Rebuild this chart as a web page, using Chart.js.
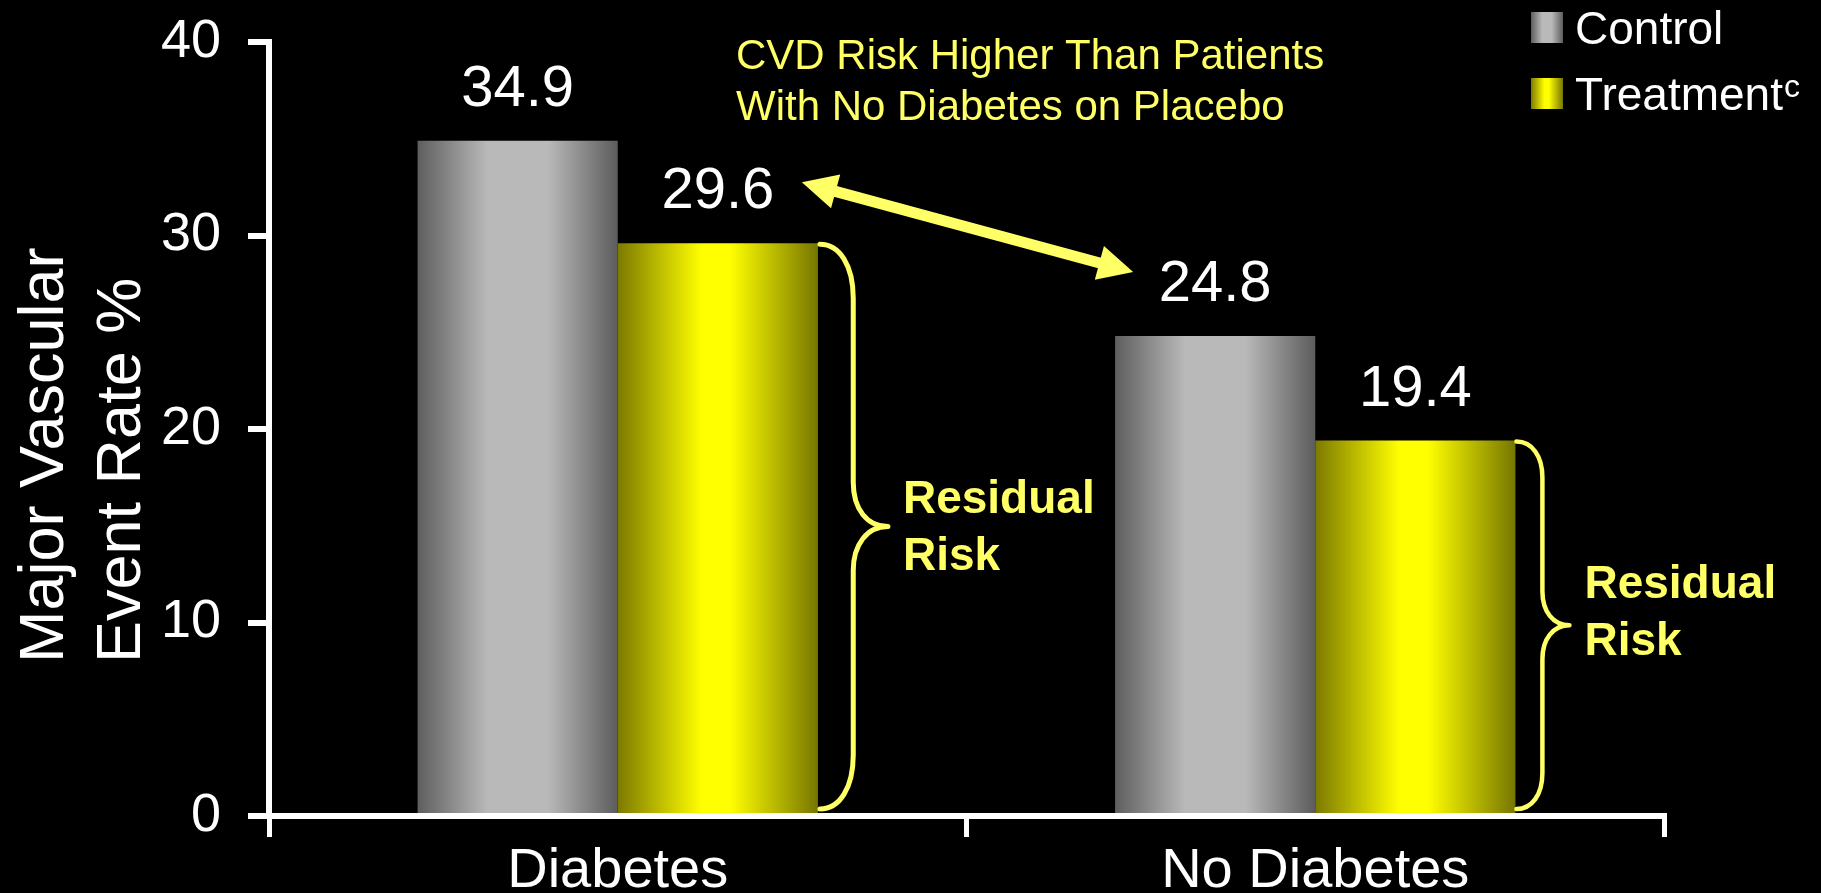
<!DOCTYPE html>
<html>
<head>
<meta charset="utf-8">
<title>Major Vascular Event Rate</title>
<script src="https://cdn.jsdelivr.net/npm/chart.js@4.4.1/dist/chart.umd.min.js"></script>
<style>
  html, body { margin: 0; padding: 0; background: #000; overflow: hidden; }
  #wrap { width: 1821px; height: 893px; position: relative; }
  canvas { display: block; }
</style>
</head>
<body>
<div id="wrap"><canvas id="chart" width="1821" height="893"></canvas></div>
<script>
// ---- data ----
const categories = ['Diabetes', 'No Diabetes'];
const controlRates = [34.9, 24.8];
const treatmentRates = [29.6, 19.4];
const yTickValues = [0, 10, 20, 30, 40];
const seriesLabels = ['Control', 'Treatment'];
const seriesNotes = ['', 'c'];
const yTitleLines = ['Major Vascular', 'Event Rate %'];
const calloutLines = ['CVD Risk Higher Than Patients', 'With No Diabetes on Placebo'];
const braceLines = ['Residual', 'Risk'];

// ---- styling ----
const FONT = "'Liberation Sans', Arial, Helvetica, sans-serif";
const ACCENT = '#ffff66';
const GRAY_STOPS = [[0, '#5e5e5e'], [0.35, '#b9b9b9'], [0.65, '#b9b9b9'], [1, '#5c5c5c']];
const YELLOW_STOPS = [[0, '#7c7a00'], [0.42, '#ffff00'], [0.56, '#ffff00'], [1, '#767600']];
const SERIES_STOPS = [GRAY_STOPS, YELLOW_STOPS];

function hGradient(ctx, x0, x1, stops) {
  const g = ctx.createLinearGradient(x0, 0, x1, 0);
  stops.forEach(([o, c]) => g.addColorStop(o, c));
  return g;
}

// Curly brace opening to the left, pointing right at the middle
function drawBrace(ctx, x0, top, bottom, w, hookTop, hookMid, lw) {
  const xm = x0 + w * 0.49;
  const tip = x0 + w;
  const mid = (top + bottom) / 2;
  ctx.save();
  ctx.strokeStyle = ACCENT;
  ctx.lineWidth = lw;
  ctx.lineCap = 'round';
  ctx.lineJoin = 'round';
  ctx.beginPath();
  ctx.moveTo(x0, top);
  ctx.bezierCurveTo(x0 + (xm - x0) * 0.6, top, xm, top + hookTop * 0.4, xm, top + hookTop);
  ctx.lineTo(xm, mid - hookMid);
  ctx.bezierCurveTo(xm, mid - hookMid * 0.4, xm + (tip - xm) * 0.4, mid, tip, mid);
  ctx.bezierCurveTo(xm + (tip - xm) * 0.4, mid, xm, mid + hookMid * 0.4, xm, mid + hookMid);
  ctx.lineTo(xm, bottom - hookTop);
  ctx.bezierCurveTo(xm, bottom - hookTop * 0.4, x0 + (xm - x0) * 0.6, bottom, x0, bottom);
  ctx.stroke();
  ctx.restore();
  return { tip, mid };
}

function drawDoubleArrow(ctx, ax, ay, bx, by, shaft, headLen, headHalf) {
  const dx = bx - ax, dy = by - ay;
  const len = Math.hypot(dx, dy);
  const ux = dx / len, uy = dy / len, nx = -uy, ny = ux;
  ctx.save();
  ctx.strokeStyle = ACCENT;
  ctx.fillStyle = ACCENT;
  ctx.lineWidth = shaft;
  ctx.beginPath();
  ctx.moveTo(ax + ux * headLen * 0.8, ay + uy * headLen * 0.8);
  ctx.lineTo(bx - ux * headLen * 0.8, by - uy * headLen * 0.8);
  ctx.stroke();
  [[ax, ay, 1], [bx, by, -1]].forEach(([tx, ty, s]) => {
    const cx = tx + s * ux * headLen, cy = ty + s * uy * headLen;
    ctx.beginPath();
    ctx.moveTo(tx, ty);
    ctx.lineTo(cx + nx * headHalf, cy + ny * headHalf);
    ctx.lineTo(cx - nx * headHalf, cy - ny * headHalf);
    ctx.closePath();
    ctx.fill();
  });
  ctx.restore();
}

// Cylinder-like horizontal shading applied to every bar from its real geometry
const barShading = {
  id: 'barShading',
  beforeDatasetsDraw(chart) {
    const ctx = chart.ctx;
    chart.data.datasets.forEach((ds, i) => {
      chart.getDatasetMeta(i).data.forEach(bar => {
        const half = bar.width / 2;
        bar.options = Object.assign({}, bar.options, {
          backgroundColor: hGradient(ctx, bar.x - half, bar.x + half, SERIES_STOPS[i])
        });
      });
    });
  }
};

// Value labels, residual-risk braces, comparison arrow and callout text
const annotations = {
  id: 'annotations',
  afterDatasetsDraw(chart) {
    const ctx = chart.ctx;
    const yScale = chart.scales.y;
    const control = chart.getDatasetMeta(0).data;
    const treated = chart.getDatasetMeta(1).data;

    ctx.save();
    ctx.fillStyle = '#ffffff';
    ctx.font = `58px ${FONT}`;
    ctx.textAlign = 'center';
    ctx.textBaseline = 'alphabetic';
    chart.data.datasets.forEach((ds, i) => {
      chart.getDatasetMeta(i).data.forEach((bar, j) => {
        ctx.fillText(ds.data[j].toFixed(1), bar.x, bar.y - 35);
      });
    });
    ctx.restore();

    // braces beside the treatment bars
    const braceShapes = [
      { w: 68, hookTop: 54, hookMid: 44, lw: 5, gap: 2, textShift: -14 },
      { w: 53, hookTop: 36, hookMid: 34, lw: 4.5, gap: 1, textShift: -27 }
    ];
    treated.forEach((bar, j) => {
      const s = braceShapes[j];
      const x0 = bar.x + bar.width / 2 + s.gap;
      const b = drawBrace(ctx, x0, bar.y + 1, bar.base - 4, s.w, s.hookTop, s.hookMid, s.lw);
      ctx.save();
      ctx.fillStyle = ACCENT;
      ctx.font = `bold 46px ${FONT}`;
      ctx.textAlign = 'left';
      ctx.textBaseline = 'alphabetic';
      braceLines.forEach((t, k) => ctx.fillText(t, b.tip + 15, b.mid + s.textShift + k * 57));
      ctx.restore();
    });

    // arrow between the treated-diabetes rate and the untreated no-diabetes rate
    const a = treated[0], c = control[1];
    drawDoubleArrow(ctx,
      a.x + 84, yScale.getPixelForValue(treatmentRates[0]) - 61,
      c.x - 82, yScale.getPixelForValue(controlRates[1]) - 64,
      11, 35, 17.5);

    ctx.save();
    ctx.fillStyle = ACCENT;
    ctx.font = `42px ${FONT}`;
    ctx.textAlign = 'left';
    ctx.textBaseline = 'alphabetic';
    calloutLines.forEach((t, k) => ctx.fillText(t, 736, 69 + k * 51));
    ctx.restore();
  }
};

// Legend boxes and the two-line rotated y-axis title
const frame = {
  id: 'frame',
  afterDraw(chart) {
    const ctx = chart.ctx;
    ctx.save();
    chart.data.datasets.forEach((ds, i) => {
      const top = 12 + i * 66;
      ctx.fillStyle = hGradient(ctx, 1531, 1563, SERIES_STOPS[i]);
      ctx.fillRect(1531, top, 32, 31);
      ctx.fillStyle = '#ffffff';
      ctx.font = `46px ${FONT}`;
      ctx.textAlign = 'left';
      ctx.textBaseline = 'alphabetic';
      const base = top + 32;
      ctx.fillText(ds.label, 1575, base);
      if (seriesNotes[i]) {
        const w = ctx.measureText(ds.label).width;
        ctx.font = `32px ${FONT}`;
        ctx.fillText(seriesNotes[i], 1575 + w + 1, base - 13);
      }
    });

    ctx.fillStyle = '#ffffff';
    ctx.font = `63px ${FONT}`;
    ctx.textAlign = 'left';
    ctx.textBaseline = 'alphabetic';
    yTitleLines.forEach((t, k) => {
      ctx.save();
      ctx.translate(63 + k * 77, 663);
      ctx.rotate(-Math.PI / 2);
      ctx.fillText(t, 0, 0);
      ctx.restore();
    });
    ctx.restore();
  }
};

Chart.defaults.font.family = FONT;
Chart.defaults.color = '#ffffff';

new Chart(document.getElementById('chart'), {
  type: 'bar',
  data: {
    labels: categories,
    datasets: [
      { label: seriesLabels[0], data: controlRates, backgroundColor: () => '#9a9a9a', borderWidth: 0 },
      { label: seriesLabels[1], data: treatmentRates, backgroundColor: () => '#e0e000', borderWidth: 0 }
    ]
  },
  options: {
    responsive: false,
    animation: false,
    events: [],
    categoryPercentage: 0.574,
    barPercentage: 1.0,
    layout: { padding: { top: 42, right: 157, bottom: 0, left: 0 } },
    plugins: {
      legend: { display: false },
      tooltip: { enabled: false },
      title: { display: false }
    },
    scales: {
      x: {
        offset: true,
        grid: {
          offset: true, drawOnChartArea: false, drawTicks: true,
          tickLength: 21, tickWidth: 5, tickColor: '#ffffff', color: '#ffffff', lineWidth: 5
        },
        border: { display: true, color: '#ffffff', width: 6 },
        ticks: { color: '#ffffff', font: { size: 56 }, padding: 1, maxRotation: 0, autoSkip: false },
        afterFit: s => { s.height = 77; s.paddingLeft = 0; s.paddingRight = 0; }
      },
      y: {
        min: 0,
        max: 40,
        afterBuildTicks: s => { s.ticks = yTickValues.map(v => ({ value: v })); },
        grid: {
          drawOnChartArea: false, drawTicks: true,
          tickLength: 21, tickWidth: 6, tickColor: '#ffffff', color: '#ffffff', lineWidth: 6
        },
        border: { display: true, color: '#ffffff', width: 6 },
        ticks: { color: '#ffffff', font: { size: 54 }, padding: 27 },
        afterFit: s => { s.width = 269; s.paddingTop = 0; s.paddingBottom = 0; }
      }
    }
  },
  plugins: [barShading, annotations, frame]
});
</script>
</body>
</html>
